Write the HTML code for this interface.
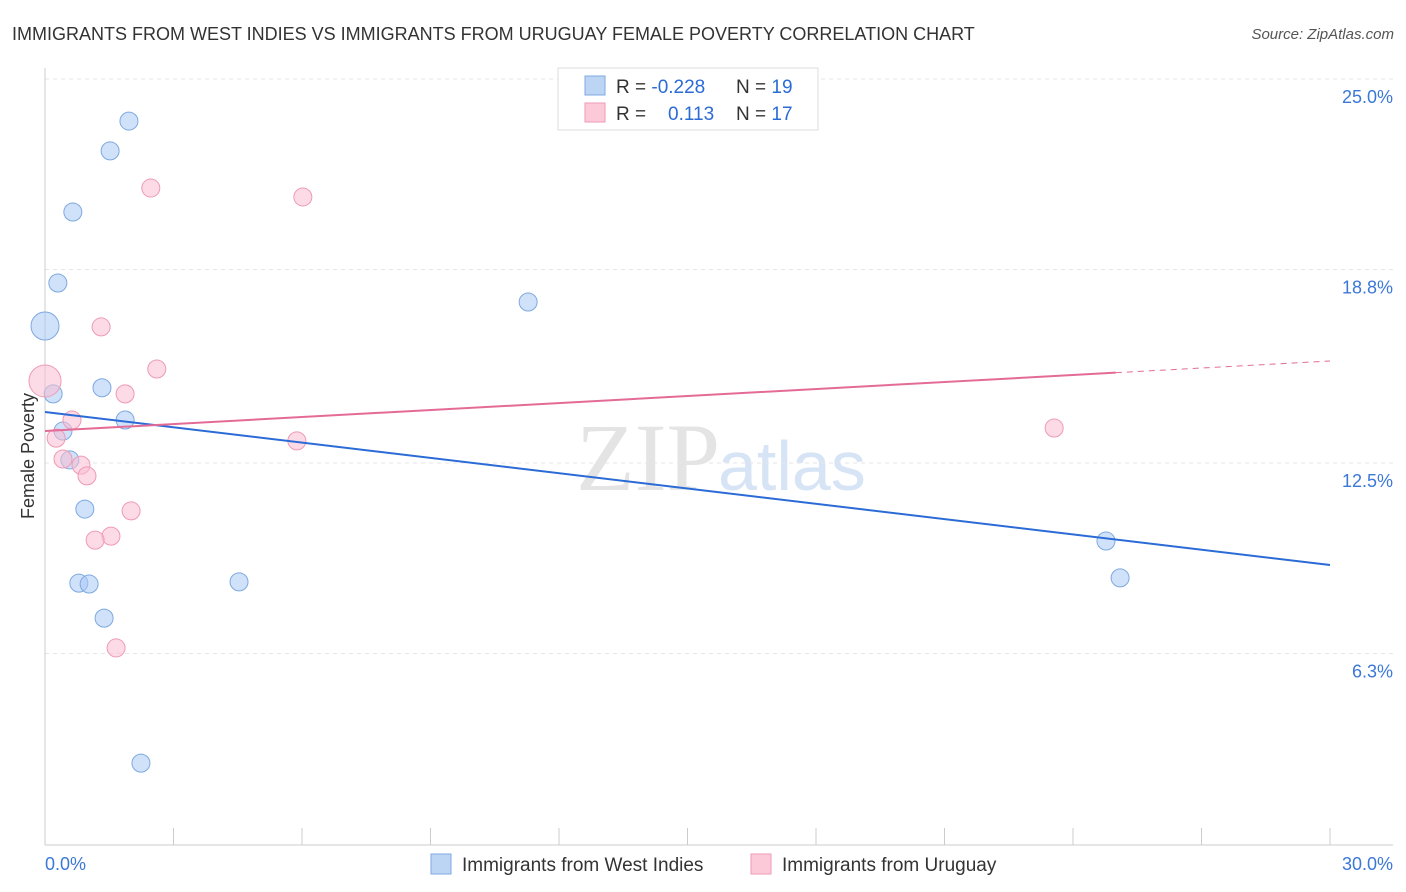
<!DOCTYPE html>
<html><head><meta charset="utf-8"><style>
body{margin:0;background:#fff;font-family:"Liberation Sans",sans-serif;}
svg{display:block}
</style></head><body>
<svg id="c" width="1406" height="892">
<text x="12" y="40" font-size="18" fill="#333">IMMIGRANTS FROM WEST INDIES VS IMMIGRANTS FROM URUGUAY FEMALE POVERTY CORRELATION CHART</text>
<text x="1394" y="39" font-size="15" fill="#555" font-style="italic" text-anchor="end">Source: ZipAtlas.com</text>
<text x="720" y="490" font-size="96" fill="#e4e4e4" text-anchor="end" font-family="Liberation Serif">ZIP</text>
<text x="718" y="490" font-size="70" fill="#d6e4f5">atlas</text>
<text transform="translate(34,456) rotate(-90)" font-size="18" fill="#333" text-anchor="middle">Female Poverty</text>
<g id="grid"></g><g id="marks"></g>
<g>
<rect x="558" y="68" width="260" height="62" fill="#fff" stroke="#ddd"/>
<rect x="585" y="76" width="20" height="19" fill="#bdd5f5" stroke="#7ea9e0"/>
<rect x="585" y="103" width="20" height="19" fill="#fcc9d8" stroke="#ef9ab5"/>
<text x="616" y="93" font-size="19" fill="#333">R = <tspan fill="#2b6bd6">-0.228</tspan></text>
<text x="736" y="93" font-size="19" fill="#333">N = <tspan fill="#2b6bd6">19</tspan></text>
<text x="616" y="120" font-size="19" fill="#333">R = <tspan fill="#2b6bd6" x="668">0.113</tspan></text>
<text x="736" y="120" font-size="19" fill="#333">N = <tspan fill="#2b6bd6">17</tspan></text>
</g>
<g>
<rect x="431" y="854" width="20" height="20" fill="#bdd5f5" stroke="#7ea9e0"/>
<text x="462" y="871" font-size="19" fill="#333">Immigrants from West Indies</text>
<rect x="751" y="854" width="20" height="20" fill="#fcc9d8" stroke="#ef9ab5"/>
<text x="782" y="871" font-size="19" fill="#333">Immigrants from Uruguay</text>
</g>
</svg>
<script>
const yTicks=[25.0,18.8,12.5,6.3];
const yTickLabels=["25.0%","18.8%","12.5%","6.3%"];
const xTickLabels=["0.0%","30.0%"];
const blueX=[1.96,1.52,0.65,0.30,0.0,11.28,0.19,1.33,1.87,0.42,0.58,0.93,0.79,1.03,4.53,1.38,2.24,24.77,25.10];
const blueY=[23.63,22.66,20.67,18.36,16.96,17.74,14.75,14.95,13.90,13.54,12.60,11.00,8.59,8.56,8.63,7.45,2.73,9.96,8.76];
const blueR=[9,9,9,9,14,9,9,9,9,9,9,9,9,9,9,9,9,9,9];
const pinkX=[2.47,6.02,1.31,2.61,0,1.87,0.63,0.26,5.88,0.42,0.84,0.98,2.01,1.54,1.17,1.66,23.56];
const pinkY=[21.45,21.16,16.93,15.56,15.17,14.75,13.90,13.31,13.22,12.63,12.43,12.08,10.94,10.12,9.99,6.48,13.64];
const pinkR=[9,9,9,9,16,9,9,9,9,9,9,9,9,9,9,9,9];
const blueTrend=[14.16,9.18];
const pinkTrend=[13.54,15.82];
const pinkSolidEnd=25;
const X=v=>45+v*1285/30, Y=v=>79+(25-v)*30.72;
const ns="http://www.w3.org/2000/svg";
function mk(t,a,p){const e=document.createElementNS(ns,t);for(const k in a)e.setAttribute(k,a[k]);p.appendChild(e);return e;}
const g=document.getElementById('grid'),m=document.getElementById('marks');
yTicks.forEach((t,i)=>{
 const l=mk('line',{x1:45,x2:1393,y1:Y(t),y2:Y(t),stroke:'#e6e6e6','stroke-dasharray':'4,4'},g);
 
 
 const tx=mk('text',{x:1393,y:Y(t)+24,'font-size':18,fill:'#3b78d8','text-anchor':'end'},g);tx.textContent=yTickLabels[i];
 
 
});
for(let i=0;i<=10;i++){const l=mk('line',{x1:X(i*3),x2:X(i*3),y1:828,y2:845,stroke:'#ccc'},g);
 
 }
let a=mk('line',{x1:45,x2:1393,y1:845,y2:845,stroke:'#ccc'},g);


a=mk('line',{x1:45,x2:45,y1:68,y2:845,stroke:'#ccc'},g);


[[0,45,'start'],[30,1393,'end']].forEach((d,i)=>{const t=mk('text',{x:d[1],y:870,'font-size':18,fill:'#3b78d8','text-anchor':d[2]},g);t.textContent=xTickLabels[i];
 
 });
blueX.forEach((x,i)=>{const c=mk('circle',{cx:X(x),cy:Y(blueY[i]),r:blueR[i],fill:'rgba(170,200,245,0.55)',stroke:'#7ea9e0'},m);
 
 });
pinkX.forEach((x,i)=>{const c=mk('circle',{cx:X(x),cy:Y(pinkY[i]),r:pinkR[i],fill:'rgba(250,190,210,0.55)',stroke:'#ef9ab5'},m);
 
 });
let l=mk('line',{x1:X(0),y1:Y(blueTrend[0]),x2:X(30),y2:Y(blueTrend[1]),stroke:'#2b6bd6','stroke-width':2},m);


const py=v=>pinkTrend[0]+(pinkTrend[1]-pinkTrend[0])*v/30;
l=mk('line',{x1:X(0),y1:Y(py(0)),x2:X(pinkSolidEnd),y2:Y(py(pinkSolidEnd)),stroke:'#e36b96','stroke-width':2},m);


l=mk('line',{x1:X(pinkSolidEnd),y1:Y(py(pinkSolidEnd)),x2:X(30),y2:Y(py(30)),stroke:'#e36b96','stroke-width':1,'stroke-dasharray':'6,5'},m);


</script>
</body></html>
